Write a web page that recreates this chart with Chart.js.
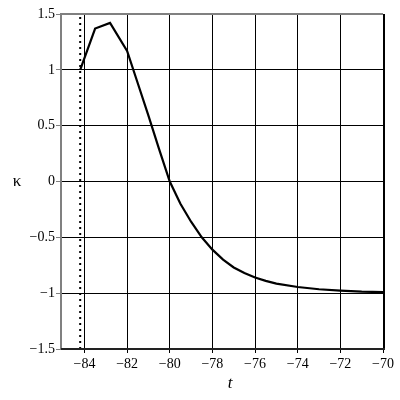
<!DOCTYPE html>
<html>
<head>
<meta charset="utf-8">
<script src="https://cdn.jsdelivr.net/npm/chart.js@4"></script>
<style>
  html, body { margin: 0; padding: 0; background: #fff; }
  #wrap { width: 400px; height: 400px; }
</style>
</head>
<body>
<div id="wrap"><canvas id="kappaChart" width="400" height="400"></canvas></div>
<script>
// values
const tValues = [-84.2, -83.5, -82.8, -82.0, -81.5, -81.0, -80.5, -80.0, -79.5, -79.0, -78.5, -78.0,
                 -77.5, -77.0, -76.5, -76.0, -75.5, -75.0, -74.0, -73.0, -72.0, -71.0, -70.0];
const kappaValues = [1.0, 1.37, 1.42, 1.17, 0.88, 0.59, 0.29, 0.0, -0.2, -0.36, -0.5, -0.61,
                     -0.7, -0.77, -0.82, -0.86, -0.89, -0.915, -0.945, -0.965, -0.978, -0.987, -0.99];
const asymptoteT = -84.2;
const xTicks = [-84, -82, -80, -78, -76, -74, -72, -70];
const yTicks = [-1.5, -1, -0.5, 0, 0.5, 1, 1.5];

const serif = "'Liberation Serif', 'DejaVu Serif', serif";
const fmt = v => (v < 0 ? '\u2212' : '') + Math.abs(v);

const curve = tValues.map((t, i) => ({ x: t, y: kappaValues[i] }));
const asymptote = [{ x: asymptoteT, y: yTicks[0] }, { x: asymptoteT, y: yTicks[yTicks.length - 1] }];

// frame + axis titles
const framePlugin = {
    id: 'frame',
    afterDraw(chart) {
        const { ctx, chartArea: a } = chart;
        ctx.save();
        ctx.lineWidth = 2;
        ctx.strokeStyle = '#808080';
        ctx.beginPath();
        ctx.moveTo(a.left, a.bottom);
        ctx.lineTo(a.left, a.top);
        ctx.lineTo(a.right, a.top);
        ctx.stroke();
        ctx.strokeStyle = '#000';
        ctx.lineWidth = 1;
        ctx.beginPath();
        ctx.moveTo(a.right + 1.5, a.top);
        ctx.lineTo(a.right + 1.5, a.bottom);
        ctx.stroke();
        ctx.strokeStyle = '#222';
        ctx.lineWidth = 2;
        ctx.beginPath();
        ctx.moveTo(a.left, a.bottom);
        ctx.lineTo(a.right + 2, a.bottom);
        ctx.stroke();

        ctx.fillStyle = '#000';
        ctx.textAlign = 'center';
        ctx.textBaseline = 'middle';
        ctx.font = 'italic 17px ' + serif;
        ctx.fillText('t', 230, 384);
        ctx.font = '17px ' + serif;
        ctx.fillText('\u03BA', 17, 182);
        ctx.restore();
    }
};

new Chart(document.getElementById('kappaChart').getContext('2d'), {
    type: 'scatter',
    data: {
        datasets: [{
            data: curve,
            showLine: true,
            borderColor: '#000',
            borderWidth: 2.2,
            pointRadius: 0,
            tension: 0
        }, {
            data: asymptote,
            showLine: true,
            borderColor: '#000',
            borderWidth: 2,
            borderDash: [2, 4],
            pointRadius: 0
        }]
    },
    options: {
        responsive: false,
        animation: false,
        layout: { padding: { top: 14, right: 17, left: 0, bottom: 0 } },
        plugins: { legend: { display: false }, tooltip: { enabled: false } },
        scales: {
            x: {
                type: 'linear',
                min: -85.1,
                max: -70,
                afterBuildTicks: s => { s.ticks = xTicks.map(v => ({ value: v })); },
                afterFit: s => { s.height = 51; },
                grid: { color: '#000', lineWidth: 1, tickLength: 4, tickColor: '#000' },
                border: { display: false },
                ticks: {
                    color: '#000',
                    padding: 3,
                    maxRotation: 0,
                    font: { family: serif, size: 14 },
                    callback: v => fmt(v)
                }
            },
            y: {
                type: 'linear',
                min: -1.5,
                max: 1.5,
                afterBuildTicks: s => { s.ticks = yTicks.map(v => ({ value: v })); },
                afterFit: s => { s.width = 61; },
                grid: { color: '#000', lineWidth: 1, tickLength: 5, tickColor: '#808080' },
                border: { display: false },
                ticks: {
                    color: '#000',
                    padding: 1,
                    font: { family: serif, size: 14 },
                    callback: v => fmt(v)
                }
            }
        }
    },
    plugins: [framePlugin]
});
</script>
</body>
</html>
